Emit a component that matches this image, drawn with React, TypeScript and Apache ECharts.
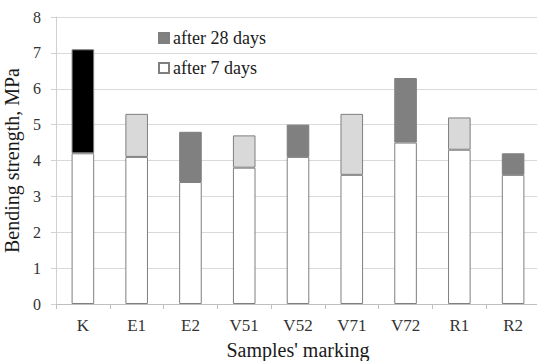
import React, { useEffect, useRef } from "react";
import * as echarts from "echarts";

// Samples and bending strength (MPa)
const samples = ["K", "E1", "E2", "V51", "V52", "V71", "V72", "R1", "R2"];
const strength7Days = [4.2, 4.1, 3.4, 3.8, 4.1, 3.6, 4.5, 4.3, 3.6];
const strength28Days = [7.1, 5.3, 4.8, 4.7, 5.0, 5.3, 6.3, 5.2, 4.2];

// Fill of the 28-day segment for each sample
const BLACK = "#000000";
const LIGHT = "#d9d9d9";
const DARK = "#808080";
const fill28 = [BLACK, LIGHT, DARK, LIGHT, DARK, LIGHT, DARK, LIGHT, DARK];

const FONT = "Times New Roman, Liberation Serif, serif";

export default function App() {
  const ref = useRef<HTMLDivElement>(null);

  useEffect(() => {
    if (!ref.current) return;
    const chart = echarts.init(ref.current, null, { renderer: "svg" });

    const gain = strength28Days.map((v, i) => +(v - strength7Days[i]).toFixed(2));

    chart.setOption({
      animation: false,
      backgroundColor: "#ffffff",
      textStyle: { fontFamily: FONT },
      grid: { left: 56, top: 17, right: -3, bottom: 57, outerBoundsMode: "none", containLabel: false },
      legend: {
        data: ["after 28 days", "after 7 days"],
        orient: "vertical",
        left: 153,
        top: 24,
        itemWidth: 10,
        itemHeight: 10,
        itemGap: 12,
        icon: "rect",
        textStyle: { fontFamily: FONT, fontSize: 18, color: "#1a1a1a", padding: [0, 0, 0, -1] },
      },
      xAxis: {
        type: "category",
        data: samples,
        name: "Samples' marking",
        nameLocation: "middle",
        nameGap: 36,
        nameTextStyle: { fontFamily: FONT, fontSize: 20, color: "#1a1a1a" },
        axisLine: { lineStyle: { color: "#bfbfbf" } },
        axisTick: { show: true, length: 5, lineStyle: { color: "#bfbfbf" } },
        axisLabel: { fontFamily: FONT, fontSize: 17, color: "#333333", margin: 13 },
      },
      yAxis: {
        type: "value",
        min: 0,
        max: 8,
        interval: 1,
        name: "Bending strength, MPa",
        nameLocation: "middle",
        nameGap: 24,
        nameTextStyle: { fontFamily: FONT, fontSize: 20, color: "#1a1a1a" },
        axisLine: { show: true, lineStyle: { color: "#d0d0d0" } },
        axisTick: { show: true, length: 5, lineStyle: { color: "#d0d0d0" } },
        axisLabel: { fontFamily: FONT, fontSize: 16, color: "#333333", margin: 15 },
        splitLine: { lineStyle: { color: "#d9d9d9", width: 1 } },
      },
      series: [
        {
          name: "after 7 days",
          type: "bar",
          stack: "s",
          barWidth: "42%",
          data: strength7Days,
          itemStyle: { color: "#ffffff", borderColor: "#7f7f7f", borderWidth: 1 },
        },
        {
          name: "after 28 days",
          type: "bar",
          stack: "s",
          barWidth: "42%",
          data: gain.map((v, i) => ({ value: v, itemStyle: { color: fill28[i] } })),
          itemStyle: { color: DARK, borderColor: "#7f7f7f", borderWidth: 1 },
        },
      ],
    });

    return () => chart.dispose();
  }, []);

  return <div ref={ref} style={{ width: 537, height: 361, position: "absolute", left: 0, top: 0 }} />;
}
